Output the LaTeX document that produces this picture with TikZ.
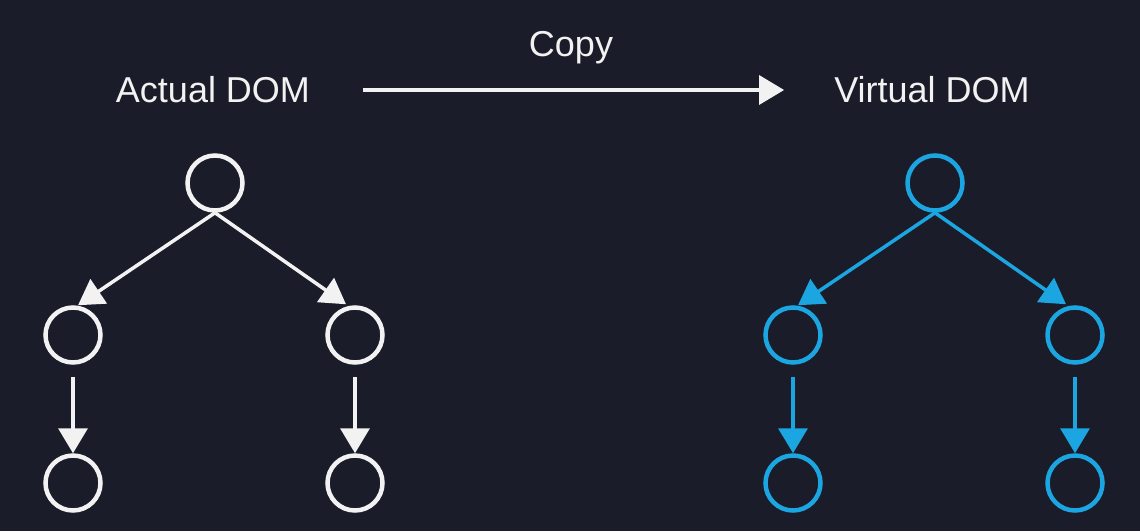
\documentclass[tikz,border=0pt]{standalone}
\usepackage{fontspec}
\setmainfont{Liberation Sans}
\usetikzlibrary{arrows.meta}
\definecolor{bgc}{HTML}{1B1C29}
\definecolor{chalk}{HTML}{F2F2F2}
\definecolor{vblue}{HTML}{1BA6E2}
\tikzset{
  domnode/.style={circle, draw=#1, line width=4.5pt, minimum size=55pt, inner sep=0pt},
  edge/.style={draw=#1, line width=3.5pt, -{Triangle[length=25pt,width=29pt]}, #1},
  label/.style={text=chalk, font=\fontsize{36}{40}\selectfont, inner sep=3pt}
}
\begin{document}
\begin{tikzpicture}[x=1pt,y=-1pt]
\fill[bgc] (0,0) rectangle (1140,531);
\useasboundingbox (0,0) rectangle (1140,531);
% labels
\node[label] (act) at (213,90) {Actual DOM};
\node[label] (virt) at (932,90) {Virtual DOM};
\node[label] (copy) at (571,48) {Copy};
\draw[edge=chalk, shorten <=50pt, shorten >=47pt] (act.east) -- (virt.west);
% actual tree
\node[domnode=chalk] (a0) at (215,183) {};
\node[domnode=chalk] (a1) at (73,335) {};
\node[domnode=chalk] (a2) at (355,335) {};
\node[domnode=chalk] (a3) at (73,483) {};
\node[domnode=chalk] (a4) at (355,483) {};
\draw[edge=chalk] (a0.south) -- ([xshift=5pt]a1.north);
\draw[edge=chalk] (a0.south) -- ([xshift=-9pt,yshift=1pt]a2.north);
\draw[edge=chalk, shorten <=12pt] (a1.south) -- (a3.north);
\draw[edge=chalk, shorten <=12pt] (a2.south) -- (a4.north);
% virtual tree
\node[domnode=vblue] (v0) at (935,183) {};
\node[domnode=vblue] (v1) at (793,335) {};
\node[domnode=vblue] (v2) at (1075,335) {};
\node[domnode=vblue] (v3) at (793,483) {};
\node[domnode=vblue] (v4) at (1075,483) {};
\draw[edge=vblue] (v0.south) -- ([xshift=5pt]v1.north);
\draw[edge=vblue] (v0.south) -- ([xshift=-9pt,yshift=1pt]v2.north);
\draw[edge=vblue, shorten <=12pt] (v1.south) -- (v3.north);
\draw[edge=vblue, shorten <=12pt] (v2.south) -- (v4.north);
\end{tikzpicture}
\end{document}
